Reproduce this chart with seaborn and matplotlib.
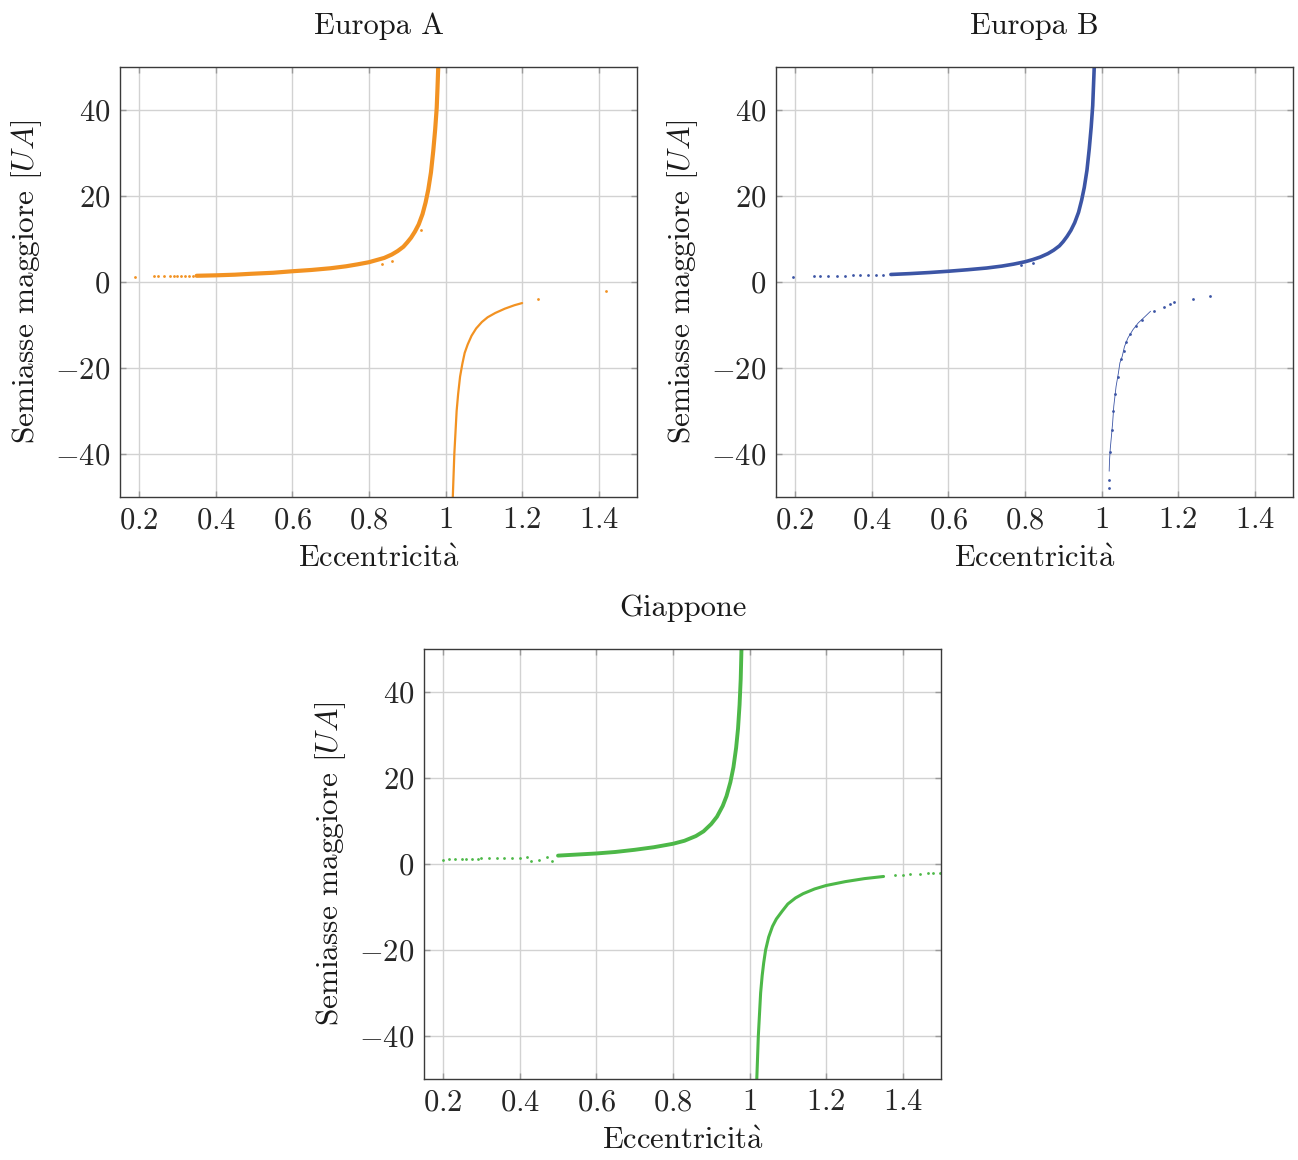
import matplotlib
matplotlib.use('Agg')
import matplotlib.pyplot as plt
from matplotlib.ticker import FuncFormatter, MultipleLocator
import seaborn as sns

# Europa A (arancione)
eurA_ell_e = [0.35, 0.40, 0.45, 0.49, 0.55, 0.60, 0.65, 0.70, 0.74, 0.77, 0.80, 0.82, 0.84,
              0.86, 0.875, 0.89, 0.90, 0.91, 0.92, 0.93, 0.94, 0.948, 0.955, 0.962, 0.968,
              0.973, 0.977, 0.979, 0.981]
eurA_ell_a = [1.45, 1.55, 1.7, 1.9, 2.15, 2.5, 2.8, 3.2, 3.65, 4.1, 4.6, 5.1, 5.6,
              6.4, 7.2, 8.2, 9.2, 10.3, 11.7, 13.4, 15.8, 18.5, 21.5, 25.5, 30.5,
              35.5, 40.5, 45.0, 50.0]
eurA_hyp_e = [1.019, 1.021, 1.023, 1.026, 1.029, 1.033, 1.038, 1.044, 1.05, 1.058, 1.068,
              1.08, 1.095, 1.11, 1.13, 1.155, 1.18, 1.2]
eurA_hyp_a = [-50.0, -45.0, -40.0, -35.0, -30.0, -26.0, -22.0, -19.0, -16.5, -14.5, -12.5,
              -10.8, -9.3, -8.2, -7.2, -6.2, -5.4, -4.9]
eurA_dot_e = [0.19, 0.24, 0.25, 0.265, 0.28, 0.29, 0.30, 0.31, 0.32, 0.33, 0.34,
              0.834, 0.86, 0.935, 1.242, 1.418]
eurA_dot_a = [1.15, 1.3, 1.3, 1.35, 1.3, 1.4, 1.35, 1.4, 1.45, 1.4, 1.45,
              4.2, 4.8, 12.1, -4.0, -2.2]

# Europa B (blu)
eurB_ell_e = [0.45, 0.50, 0.55, 0.60, 0.65, 0.70, 0.74, 0.77, 0.80, 0.82, 0.84, 0.86,
              0.875, 0.89, 0.90, 0.91, 0.92, 0.93, 0.94, 0.948, 0.955, 0.962, 0.968,
              0.973, 0.977, 0.979, 0.981]
eurB_ell_a = [1.75, 1.95, 2.2, 2.5, 2.85, 3.25, 3.7, 4.15, 4.7, 5.2, 5.8, 6.6,
              7.4, 8.4, 9.4, 10.6, 12.0, 13.8, 16.2, 19.0, 22.0, 26.0, 31.0,
              36.0, 41.0, 45.5, 50.0]
eurB_hyp_e = [1.020, 1.021, 1.023, 1.025, 1.029, 1.032, 1.038, 1.044, 1.048, 1.054, 1.060,
              1.069, 1.082, 1.096, 1.114, 1.128]
eurB_hyp_a = [-44.0, -41.3, -38.6, -36.7, -32.8, -28.9, -24.3, -21.2, -18.8, -17.3, -15.0,
              -13.0, -11.1, -9.5, -8.0, -6.8]
eurB_dot_e = [0.194, 0.25, 0.265, 0.285, 0.31, 0.33, 0.35, 0.37, 0.39, 0.41, 0.43, 0.79, 0.82,
              1.020, 1.020, 1.023, 1.027, 1.031, 1.036, 1.042, 1.05, 1.058, 1.065, 1.075,
              1.09, 1.105, 1.138, 1.163, 1.18, 1.189, 1.238, 1.283]
eurB_dot_a = [1.1, 1.3, 1.35, 1.4, 1.5, 1.5, 1.55, 1.55, 1.6, 1.6, 1.65, 4.0, 4.4,
              -47.9, -46.0, -39.5, -34.5, -30.0, -26.0, -22.0, -18.0, -16.0, -14.0, -12.2,
              -10.2, -8.8, -6.8, -5.7, -5.0, -4.7, -4.0, -3.3]

# Giappone (verde)
giap_ell_e = [0.50, 0.55, 0.60, 0.65, 0.70, 0.75, 0.80, 0.83, 0.86, 0.88, 0.90, 0.915,
              0.93, 0.94, 0.95, 0.958, 0.965, 0.97, 0.974, 0.977, 0.979]
giap_ell_a = [1.95, 2.2, 2.45, 2.8, 3.3, 3.9, 4.7, 5.4, 6.5, 7.6, 9.3, 11.0,
              13.5, 15.8, 19.0, 22.5, 27.0, 31.5, 37.0, 43.0, 50.0]
giap_hyp_e = [1.019, 1.021, 1.023, 1.026, 1.029, 1.033, 1.037, 1.042, 1.05, 1.06, 1.07,
              1.085, 1.10, 1.12, 1.14, 1.17, 1.20, 1.25, 1.30, 1.35]
giap_hyp_a = [-50.0, -45.0, -40.0, -35.0, -30.0, -26.0, -23.0, -20.0, -17.0, -14.5, -12.8,
              -11.0, -9.3, -7.9, -6.9, -5.8, -5.0, -4.1, -3.4, -2.9]
giap_dot_e = [0.20, 0.215, 0.23, 0.25, 0.26, 0.275, 0.29, 0.30, 0.32, 0.34, 0.36, 0.38, 0.40,
              0.42, 0.43, 0.45, 0.47, 0.484, 1.38, 1.40, 1.42, 1.445, 1.465, 1.48, 1.497]
giap_dot_a = [1.0, 1.1, 1.05, 1.15, 1.2, 1.2, 1.25, 1.3, 1.3, 1.35, 1.4, 1.45, 1.5,
              1.6, 0.7, 0.85, 1.7, 0.7, -2.6, -2.45, -2.4, -2.3, -2.15, -2.1, -2.05]

titles = ['Europa A', 'Europa B', 'Giappone']
colors = ['#F29222', '#3C55A5', '#4DB848']

sns.set_style('whitegrid')
plt.rcParams['font.family'] = ['cmr10', 'DejaVu Serif']
plt.rcParams['mathtext.fontset'] = 'cm'
plt.rcParams['axes.unicode_minus'] = True

fig = plt.figure(figsize=(12.98, 11.6), dpi=100)
W, H = 1298, 1160
boxes = [(120, 67), (776, 67), (424, 649)]
axes = [fig.add_axes([x / W, 1 - (y + 430) / H, 517 / W, 430 / H]) for x, y in boxes]

panels = [
    (eurA_ell_e, eurA_ell_a, eurA_hyp_e, eurA_hyp_a, eurA_dot_e, eurA_dot_a, 3.0, 1.6),
    (eurB_ell_e, eurB_ell_a, eurB_hyp_e, eurB_hyp_a, eurB_dot_e, eurB_dot_a, 2.6, 0.6),
    (giap_ell_e, giap_ell_a, giap_hyp_e, giap_hyp_a, giap_dot_e, giap_dot_a, 2.8, 2.2),
]

fmt = FuncFormatter(lambda v, p: '$%g$' % round(v, 2))

for ax, title, col, (ee, ea, he, ha, de, da, lw_e, lw_h) in zip(axes, titles, colors, panels):
    sns.lineplot(x=ee, y=ea, sort=False, estimator=None, color=col, lw=lw_e, ax=ax)
    sns.lineplot(x=he, y=ha, sort=False, estimator=None, color=col, lw=lw_h, ax=ax)
    sns.scatterplot(x=de, y=da, color=col, s=4, linewidth=0, ax=ax)

    ax.set_xlim(0.15, 1.5)
    ax.set_ylim(-50, 50)
    ax.xaxis.set_major_locator(MultipleLocator(0.2))
    ax.yaxis.set_major_locator(MultipleLocator(20))
    ax.xaxis.set_major_formatter(fmt)
    ax.yaxis.set_major_formatter(fmt)
    ax.grid(True, color='#d2d2d2', lw=1.0)
    ax.tick_params(direction='in', length=4.5, width=1.0, color='#9a9a9a',
                   top=True, right=True, bottom=True, left=True,
                   labelsize=22, labelcolor='#262626', pad=7)
    for s in ax.spines.values():
        s.set_color('#3a3a3a')
        s.set_linewidth(1.0)
    ax.set_title(title, fontsize=22, color='#1a1a1a', pad=24)
    ax.set_xlabel(r'Eccentricit$\grave{\mathrm{a}}$', fontsize=22, color='#1a1a1a', labelpad=8)
    ax.set_ylabel(r'Semiasse maggiore [$UA$]', fontsize=22.5, color='#1a1a1a', labelpad=8)

fig.savefig('out.png', dpi=100)
